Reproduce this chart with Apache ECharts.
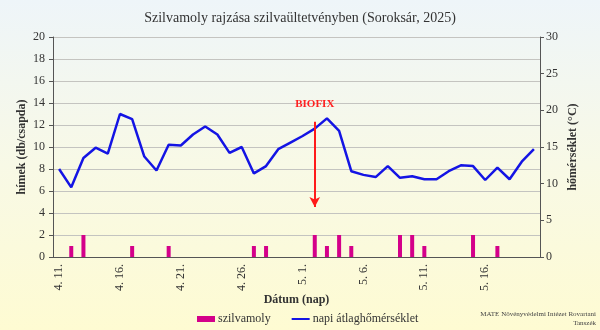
<!DOCTYPE html>
<html>
<head>
<meta charset="utf-8">
<script src="https://cdn.jsdelivr.net/npm/echarts@6/dist/echarts.min.js"></script>
<style>
  html, body { margin: 0; padding: 0; }
  #chart { width: 600px; height: 330px; }
</style>
</head>
<body>
<div id="chart"></div>
<script>
// Daily dates (April 11 – May 20, 2025)
const dates = [
  '4. 11.', '4. 12.', '4. 13.', '4. 14.', '4. 15.', '4. 16.', '4. 17.', '4. 18.', '4. 19.', '4. 20.',
  '4. 21.', '4. 22.', '4. 23.', '4. 24.', '4. 25.', '4. 26.', '4. 27.', '4. 28.', '4. 29.', '4. 30.',
  '5. 1.', '5. 2.', '5. 3.', '5. 4.', '5. 5.', '5. 6.', '5. 7.', '5. 8.', '5. 9.', '5. 10.',
  '5. 11.', '5. 12.', '5. 13.', '5. 14.', '5. 15.', '5. 16.', '5. 17.', '5. 18.', '5. 19.', '5. 20.'
];

// Male moths caught per trap per day
const mothCatch = [
  0, 1, 2, 0, 0, 0, 1, 0, 0, 1,
  0, 0, 0, 0, 0, 0, 1, 1, 0, 0,
  0, 2, 1, 2, 1, 0, 0, 0, 2, 2,
  1, 0, 0, 0, 2, 0, 1, 0, 0, 0
];

// Daily mean temperature (°C)
const meanTemp = [
  12.0, 9.5, 13.5, 14.9, 14.1, 19.5, 18.8, 13.7, 11.8, 15.3,
  15.2, 16.7, 17.8, 16.7, 14.2, 15.0, 11.4, 12.4, 14.7, 15.6,
  16.5, 17.5, 18.9, 17.2, 11.7, 11.2, 10.9, 12.4, 10.8, 11.0,
  10.6, 10.6, 11.7, 12.5, 12.4, 10.5, 12.2, 10.6, 13.0, 14.7
];

// Biofix date and the vertical span of its arrow (left-axis units)
const biofixDate = '5. 2.';
const biofixArrow = [12.3, 4.55];

const serif = 'Liberation Serif, Times New Roman, serif';
const chart = echarts.init(document.getElementById('chart'), null, { renderer: 'canvas' });

chart.setOption({
  animation: false,
  backgroundColor: {
    type: 'linear', x: 0, y: 0, x2: 0, y2: 1,
    colorStops: [
      { offset: 0, color: '#eef5f9' },
      { offset: 0.5, color: '#f8f9e6' },
      { offset: 1, color: '#fefbd2' }
    ]
  },
  textStyle: { fontFamily: serif },
  title: {
    text: 'Szilvamoly rajzása szilvaültetvényben (Soroksár, 2025)',
    left: 'center',
    top: 6,
    textStyle: { fontFamily: serif, fontSize: 14, fontWeight: 'normal', color: '#333' }
  },
  grid: { left: 53, right: 60, top: 37, bottom: 73 },
  legend: {
    bottom: 0,
    left: 192,
    itemGap: 20,
    itemWidth: 18,
    itemHeight: 6,
    textStyle: { fontFamily: serif, fontSize: 12, color: '#333', padding: [0, 0, 0, -2] },
    data: [
      { name: 'szilvamoly', icon: 'rect' },
      { name: 'napi átlaghőmérséklet', itemStyle: { opacity: 0 } }
    ]
  },
  xAxis: {
    type: 'category',
    data: dates,
    name: 'Dátum (nap)',
    nameLocation: 'middle',
    nameGap: 37,
    nameMoveOverlap: false,
    nameTextStyle: { fontFamily: serif, fontSize: 12, fontWeight: 'bold', color: '#333' },
    axisLine: { lineStyle: { color: '#555', width: 1 } },
    axisTick: { interval: 0, length: 4, lineStyle: { color: '#555' } },
    axisLabel: {
      interval: 4,
      rotate: 90,
      fontFamily: serif,
      fontSize: 12,
      color: '#333',
      margin: 7
    },
    splitLine: { show: false }
  },
  yAxis: [
    {
      type: 'value',
      min: 0, max: 20, interval: 2,
      name: 'hímek (db/csapda)',
      nameLocation: 'middle',
      nameRotate: 90,
      nameGap: 25,
      nameMoveOverlap: false,
      nameTextStyle: { fontFamily: serif, fontSize: 12, fontWeight: 'bold', color: '#333' },
      axisLine: { show: true, lineStyle: { color: '#555' } },
      axisTick: { show: true, length: 4, lineStyle: { color: '#555' } },
      axisLabel: { fontFamily: serif, fontSize: 12, color: '#333', margin: 8 },
      splitLine: { show: true, lineStyle: { color: '#c4c4c0', width: 1 } }
    },
    {
      type: 'value',
      min: 0, max: 30, interval: 5,
      position: 'right',
      name: 'hőmérséklet (°C)',
      nameLocation: 'middle',
      nameRotate: 90,
      nameGap: 27,
      nameMoveOverlap: false,
      nameTextStyle: { fontFamily: serif, fontSize: 12, fontWeight: 'bold', color: '#333' },
      axisLine: { show: true, lineStyle: { color: '#555' } },
      axisTick: { show: true, length: 4, lineStyle: { color: '#555' } },
      axisLabel: { fontFamily: serif, fontSize: 12, color: '#333', margin: 6 },
      splitLine: { show: false }
    }
  ],
  series: [
    {
      name: 'szilvamoly',
      type: 'bar',
      yAxisIndex: 0,
      data: mothCatch,
      barWidth: 4,
      itemStyle: { color: '#d4008a' },
      markLine: {
        silent: true,
        symbol: ['none', 'arrow'],
        symbolSize: [8, 10],
        lineStyle: { color: '#ff1a1a', width: 2, type: 'solid' },
        label: {
          show: true,
          position: 'start',
          distance: 12,
          formatter: 'BIOFIX',
          fontFamily: serif,
          fontSize: 11,
          fontWeight: 'bold',
          color: '#ff2020'
        },
        data: [[
          { coord: [biofixDate, biofixArrow[0]] },
          { coord: [biofixDate, biofixArrow[1]] }
        ]]
      }
    },
    {
      name: 'napi átlaghőmérséklet',
      type: 'line',
      yAxisIndex: 1,
      data: meanTemp,
      symbol: 'none',
      lineStyle: { color: '#1414e4', width: 2.5 },
      itemStyle: { color: '#1414e4' }
    }
  ],
  graphic: [
    {
      type: 'text',
      right: 4,
      top: 311,
      style: {
        text: 'MATE Növényvédelmi Intézet Rovartani',
        fontFamily: serif,
        fontSize: 7,
        fill: '#444'
      }
    },
    {
      type: 'text',
      right: 4,
      top: 320,
      style: {
        text: 'Tanszék',
        fontFamily: serif,
        fontSize: 7,
        fill: '#444'
      }
    }
  ]
});
</script>
</body>
</html>
